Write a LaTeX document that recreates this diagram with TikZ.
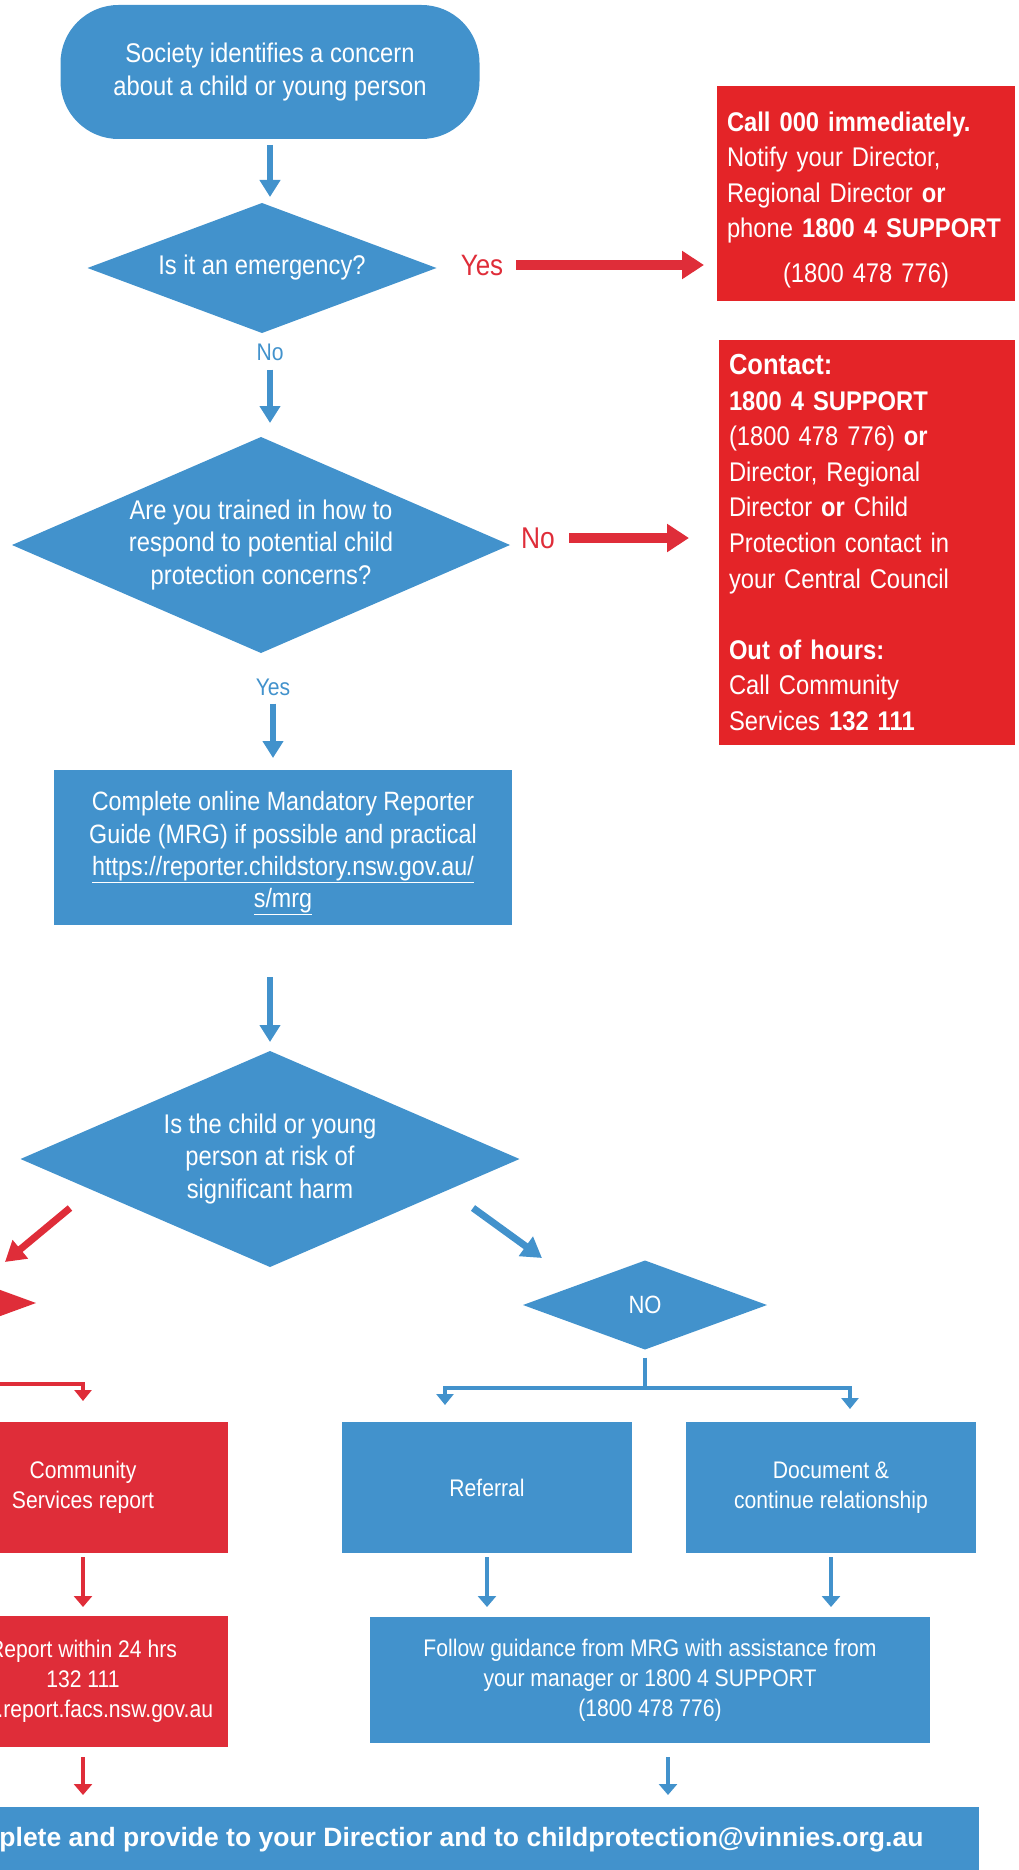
\documentclass[tikz,border=0pt]{standalone}
\usepackage{fontspec}
\setmainfont{Liberation Sans}[FakeStretch=0.88]
\newfontfamily\barfont{Liberation Sans}
\usetikzlibrary{arrows.meta,shapes.geometric,calc,positioning}
\definecolor{sblue}{RGB}{66,146,204}
\definecolor{sred}{RGB}{228,36,40}
\definecolor{cred}{RGB}{223,45,57}
\tikzset{
	terminal/.style={rectangle,rounded corners=58pt,fill=sblue,text=white,inner sep=0,outer sep=0,align=center,font=\fontsize{27}{33}\selectfont},
	decision/.style={diamond,fill=sblue,text=white,inner sep=0,outer sep=0,align=center,font=\fontsize{27}{32.5}\selectfont},
	bluebox/.style={rectangle,fill=sblue,text=white,inner sep=0,outer sep=0,align=center,font=\fontsize{24}{30}\selectfont},
	redbox/.style={rectangle,fill=sred,text=white,anchor=north west,inner xsep=10pt,inner ysep=0,outer sep=0,align=left,font=\fontsize{27}{35.6}\selectfont},
	cbox/.style={rectangle,fill=cred,text=white,inner sep=0,outer sep=0,align=center,font=\fontsize{24}{30}\selectfont},
	bluelabel/.style={text=sblue,inner sep=0,font=\fontsize{24}{28}\selectfont},
	redlabel/.style={text=cred,inner sep=0,font=\fontsize{29.5}{32}\selectfont},
	diredge/.style={-{Triangle[width=20pt,length=17pt]},line width=6pt,color=sblue},
	bigredge/.style={-{Triangle[width=27pt,length=22pt]},line width=9.5pt,color=cred},
	diagblue/.style={-{Triangle[width=23pt,length=20pt]},line width=7pt,color=sblue},
	diagred/.style={-{Triangle[width=23pt,length=20pt]},line width=7pt,color=cred},
	thinblue/.style={line width=4.5pt,color=sblue},
	thinbluearrow/.style={-{Triangle[width=17pt,length=11pt]},line width=4.5pt,color=sblue},
	thinred/.style={-{Triangle[width=17pt,length=11pt]},line width=4.5pt,color=cred},
	smallblue/.style={-{Triangle[width=18pt,length=11pt]},line width=4.5pt,color=sblue},
	smallred/.style={-{Triangle[width=18pt,length=11pt]},line width=4.5pt,color=cred}
}
\begin{document}
\begin{tikzpicture}[x=1pt,y=-1pt]
	\useasboundingbox (0,0) rectangle (1019,1870);
	\clip (0,0) rectangle (1019,1870);
	
	%%% first questions
	\node[terminal,minimum width=419,minimum height=134] (start) at (270,72) {Society identifies a concern\\about a child or young  person};
	\node[decision,minimum width=349,minimum height=130,shape aspect=2.68] (emerg) at (262,268) {Is it an emergency?};
	\node[redlabel] (yes1) at (482,265) {Yes};
	\node[redbox,minimum width=298,minimum height=215,text width=278] (call) at (717,86) {%
		\rule{0pt}{32pt}\textbf{Call 000 immediately.}\\
		Notify your Director,\\
		Regional Director \textbf{or}\\
		phone \textbf{1800 4 SUPPORT}\\[9pt]
		\makebox[\linewidth]{(1800 478 776)}};
	\node[bluelabel] (no1) at (270,352) {No};
	\node[decision,minimum width=498,minimum height=216,shape aspect=2.3] (trained) at (261,545) {Are you trained in how to\\respond to potential child\\protection concerns?};
	\node[redlabel,font=\fontsize{30}{32}\selectfont] (no2) at (538,538) {No};
	\node[redbox,minimum width=296,minimum height=405,text width=276] (contact) at (719,340) {%
		{\fontsize{29}{35.6}\selectfont\textbf{Contact:}}\\
		\textbf{1800 4 SUPPORT}\\
		(1800 478 776) \textbf{or}\\
		Director, Regional\\
		Director \textbf{or} Child\\
		Protection contact in\\
		your Central Council\\[35.6pt]
		\textbf{Out of hours:}\\
		Call Community\\
		Services \textbf{132 111}};
	\node[bluelabel] (yes2) at (273,687) {Yes};
	
	\draw[diredge,shorten <=6pt,shorten >=6pt] (start.south) -- (start.south |- emerg.north);
	\draw[bigredge,shorten <=13pt,shorten >=13pt] (yes1.east) -- (yes1.east -| call.west);
	\draw[diredge,shorten <=9pt,shorten >=14pt] (no1.south) -- (no1.south |- trained.north);
	\draw[bigredge,shorten <=14pt,shorten >=30pt] (no2.east) -- (no2.east -| contact.west);
	
	%%% MRG and risk
	\node[bluebox,minimum width=458,minimum height=155,font=\fontsize{26.5}{32.3}\selectfont] (mrg) at (283,847.5) {\rule{0pt}{31pt}Complete online Mandatory Reporter\\Guide (MRG) if possible and practical\\\underline{https://reporter.childstory.nsw.gov.au/}\\\underline{s/mrg}};
	\node[decision,minimum width=499,minimum height=216,shape aspect=2.31] (risk) at (270,1159) {Is the child or young\\person at risk of\\significant harm};
	\node[decision,fill=cred,minimum width=244,minimum height=89] (yes3) at (-86,1303) {};
	\node[decision,minimum width=244,minimum height=89,font=\fontsize{25}{30}\selectfont] (nodiam) at (645,1305) {NO};
	
	\draw[diredge,shorten <=8pt,shorten >=12pt] (yes2.south) -- (yes2.south |- mrg.north);
	\draw[diredge,shorten <=52pt,shorten >=9pt] (risk.north |- mrg.south) -- (risk.north);
	\draw[diagred] ([shift={(49.5,49)}]risk.west) -- ([shift={(-31,-41)}]yes3.east);
	\draw[diagblue] ([shift={(-46.5,49)}]risk.east) -- ([shift={(19,-47)}]nodiam.west);
	
	%%% bottom rows
	\node[cbox,minimum width=290,minimum height=131] (comm) at (83,1487.5) {Community\\Services report};
	\node[bluebox,minimum width=290,minimum height=131] (referral) at (487,1487.5) {Referral};
	\node[bluebox,minimum width=290,minimum height=131] (document) at (831,1487.5) {Document \&\\continue relationship};
	\node[cbox,minimum width=290,minimum height=131] (report) at (83,1681.5) {Report within 24 hrs\\132 111\\www.report.facs.nsw.gov.au};
	\node[bluebox,minimum width=560,minimum height=126] (follow) at (650,1680) {Follow guidance from MRG with assistance from\\your manager or 1800 4 SUPPORT\\(1800 478 776)};
	\node[bluebox,minimum width=1094,minimum height=66,font=\fontsize{26.5}{30}\barfont\bfseries] (bar) at (432,1840) {Complete and provide to your Directior and to childprotection@vinnies.org.au};
	
	\draw[thinred,shorten >=21pt] (yes3.south) |- ([shift={(0,-38)}]comm.north) -- (comm.north);
	\coordinate (split) at ($(nodiam.south |- referral.north)+(0,-34)$);
	\draw[thinblue,shorten <=8pt] (nodiam.south) -- (split);
	\draw[thinbluearrow,shorten >=17pt] (split) -| ([shift={(-42,0)}]referral.north);
	\draw[thinbluearrow,shorten >=13pt] (split) -| ([shift={(19,0)}]document.north);
	
	\draw[smallred,shorten <=4pt,shorten >=9pt] (comm.south) -- (report.north);
	\draw[smallblue,shorten <=4pt,shorten >=10pt] (referral.south) -- (referral.south |- follow.north);
	\draw[smallblue,shorten <=4pt,shorten >=10pt] (document.south) -- (document.south |- follow.north);
	\coordinate (fb) at ([shift={(18,0)}]follow.south);
	\draw[smallred,shorten <=10pt,shorten >=12pt] (report.south) -- (report.south |- bar.north);
	\draw[smallblue,shorten <=14pt,shorten >=12pt] (fb) -- (fb |- bar.north);
\end{tikzpicture}
\end{document}
